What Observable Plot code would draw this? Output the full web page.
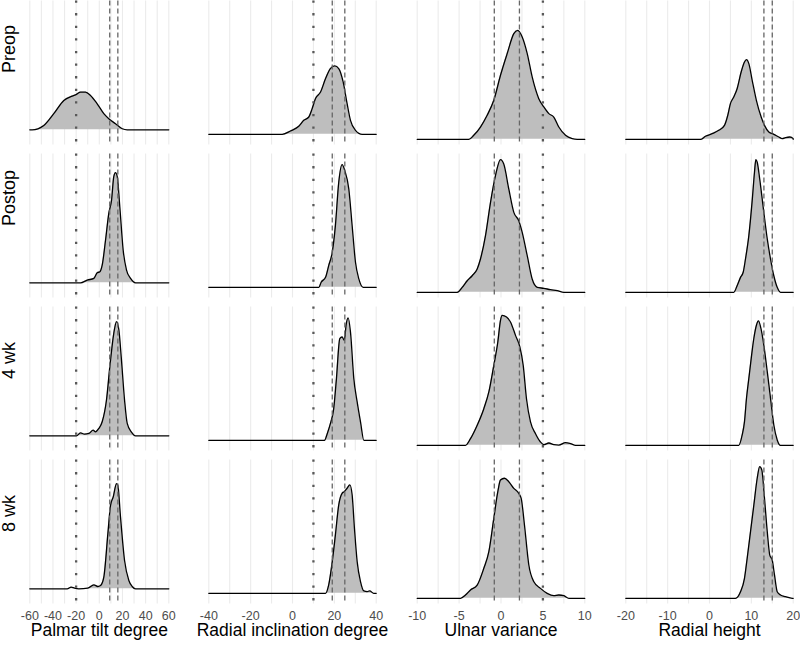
<!DOCTYPE html>
<html>
<head>
<meta charset="utf-8">
<script src="https://cdn.jsdelivr.net/npm/d3@7"></script>
<script src="https://cdn.jsdelivr.net/npm/@observablehq/plot@0.6"></script>
<style>
  html, body { margin: 0; padding: 0; background: #ffffff; }
  #chart { position: relative; width: 800px; height: 645px; background: #ffffff; overflow: hidden; }
  #chart > svg { position: absolute; top: 0; }
</style>
</head>
<body>
<div id="chart"></div>
<script>
// ---------- data (relative density) ----------
const rows = ["Preop", "Postop", "4 wk", "8 wk"];

const palmarPreop  = [[-58,0],[-47.9,0.034],[-39.3,0.125],[-30.6,0.228],[-23.4,0.262],[-19.7,0.275],[-16.2,0.293],[-11.9,0.293],[-7.6,0.267],[-1.8,0.202],[3.9,0.125],[8.2,0.086],[14,0.047],[19.8,0.008],[24.1,0]];
const palmarPostop = [[-16.2,0],[-10.4,0.021],[-4.7,0.034],[-1.8,0.078],[0.5,0.086],[2.5,0.137],[5.4,0.332],[8.2,0.539],[10.6,0.643],[12.5,0.825],[14,0.856],[15.5,0.825],[17.7,0.591],[20.6,0.254],[23.5,0.099],[27,0.034],[31.3,0]];
const palmar4wk    = [[-19.7,0],[-16.2,0.023],[-12.8,0.013],[-9,0.018],[-5.3,0.044],[-3.3,0.031],[-0.4,0.057],[2.5,0.109],[6.2,0.278],[9.1,0.537],[12.5,0.796],[14.9,0.887],[16.9,0.822],[18.9,0.615],[21.8,0.278],[24.1,0.096],[27.6,0.031],[31.3,0]];
const palmar8wk    = [[-27.7,0],[-24.3,0.013],[-21.4,0.005],[-17.7,0],[-9.9,0.005],[-4.7,0.031],[-1.3,0.018],[1.1,0.026],[3.9,0.091],[7.4,0.428],[9.7,0.648],[12,0.713],[14.9,0.817],[16,0.804],[18.3,0.558],[21.8,0.22],[25.5,0.065],[28.4,0.018],[31.3,0]];

const radialPreop  = [[-4.9,0],[-1,0.025],[3,0.06],[5.4,0.105],[7.8,0.13],[9.4,0.193],[11,0.268],[13.4,0.317],[15.8,0.418],[18.1,0.493],[20.2,0.513],[22.1,0.493],[24.2,0.393],[26.1,0.23],[27.7,0.105],[30.1,0.03],[33.3,0]];
const radialPostop = [[12.6,0],[13.7,0.038],[15.8,0.075],[17.3,0.163],[19,0.263],[20.5,0.463],[22.1,0.788],[23.7,0.92],[25,0.875],[26.9,0.738],[28.5,0.463],[30.1,0.188],[31.7,0.063],[33.8,0]];
const radial4wk    = [[15.3,0],[16.6,0.05],[18.1,0.125],[19.7,0.238],[21,0.463],[22.6,0.763],[23.7,0.775],[24.8,0.75],[25.6,0.863],[26.6,0.918],[27.7,0.813],[29.3,0.463],[30.9,0.288],[32.5,0.138],[34.1,0]];
const radial8wk    = [[15.8,0],[17.3,0.063],[19,0.238],[20.5,0.438],[22.1,0.663],[23.7,0.75],[24.8,0.763],[26.1,0.788],[27.4,0.813],[28.5,0.738],[29.6,0.488],[30.9,0.238],[32.5,0.088],[34.1,0.018],[35.7,0.013],[36.9,0.018],[38.8,0]];

const ulnarPreop  = [[-3.84,0],[-3.25,0.029],[-2.45,0.089],[-1.65,0.174],[-0.86,0.282],[-0.06,0.463],[0.74,0.62],[1.53,0.764],[2,0.788],[2.53,0.74],[3.13,0.62],[3.72,0.451],[4.51,0.294],[5.11,0.234],[5.71,0.186],[6.3,0.161],[6.9,0.089],[7.7,0.029],[8.5,0.005],[9.1,0]];
const ulnarPostop = [[-5.23,0],[-4.63,0.036],[-4.03,0.084],[-3.44,0.12],[-2.84,0.169],[-2.45,0.241],[-1.85,0.41],[-1.25,0.651],[-0.66,0.843],[-0.06,0.959],[0.33,0.928],[0.93,0.747],[1.53,0.578],[2.12,0.518],[2.53,0.434],[3.13,0.265],[3.72,0.096],[4.32,0.036],[5.11,0.029],[5.91,0.019],[6.71,0.012],[7.5,0]];
const ulnar4wk    = [[-4.24,0],[-3.64,0.048],[-2.84,0.145],[-2.05,0.265],[-1.45,0.386],[-0.86,0.578],[-0.38,0.747],[-0.06,0.904],[0.14,0.94],[0.66,0.928],[1.13,0.892],[1.73,0.795],[2.25,0.711],[2.65,0.578],[3.04,0.337],[3.52,0.169],[4.12,0.084],[4.71,0.024],[5.11,0.005],[5.71,0.017],[6.3,0.005],[6.9,0.002],[7.7,0.019],[8.3,0.012],[8.9,0]];
const ulnar8wk    = [[-4.83,0],[-4.24,0.024],[-3.64,0.06],[-2.84,0.096],[-2.05,0.217],[-1.45,0.337],[-0.86,0.578],[-0.38,0.771],[-0.06,0.855],[0.42,0.868],[0.93,0.843],[1.53,0.795],[2.12,0.759],[2.41,0.723],[2.8,0.53],[3.32,0.241],[3.92,0.12],[4.71,0.072],[5.51,0.036],[6.3,0.019],[6.9,0.024],[7.5,0.019],[8.1,0]];

const heightPreop  = [[-2.15,0],[-0.96,0.022],[0.64,0.041],[2.22,0.065],[3.58,0.101],[4.37,0.174],[5,0.258],[5.8,0.306],[6.6,0.366],[7.57,0.487],[8.36,0.559],[8.84,0.576],[9.4,0.547],[10.2,0.427],[11.2,0.282],[12.35,0.161],[13.14,0.101],[14.17,0.053],[15.37,0.036],[16.56,0.017],[17.37,0.005],[18.16,0.012],[19.2,0.017],[20,0.005]];
const heightPostop = [[5.8,0],[6.6,0.048],[7.41,0.108],[8.05,0.145],[8.6,0.241],[9.4,0.41],[10.2,0.663],[10.75,0.868],[11.07,0.959],[11.4,0.94],[12,0.819],[12.98,0.578],[13.8,0.386],[14.58,0.241],[15.37,0.12],[16.18,0.036],[16.97,0]];
const height4wk    = [[7,0],[7.81,0.075],[8.36,0.171],[8.84,0.34],[9.4,0.484],[9.97,0.629],[10.6,0.774],[11.23,0.87],[11.7,0.899],[12.19,0.858],[12.98,0.725],[13.8,0.533],[14.58,0.34],[15.37,0.147],[16.18,0.039],[16.97,0]];
const height8wk    = [[6.21,0],[7.41,0.048],[8.36,0.145],[9,0.289],[9.8,0.482],[10.6,0.675],[11.4,0.868],[12,0.952],[12.5,0.928],[13.14,0.723],[13.8,0.482],[14.4,0.313],[14.98,0.277],[15.53,0.169],[16.18,0.048],[16.97,0.024],[18.16,0.012],[19.76,0]];

// axis tick labels, grid lines and reference lines
const titles = ["Palmar tilt degree", "Radial inclination degree", "Ulnar variance", "Radial height"];
const palmarTicks = [-60,-40,-20,0,20,40,60];
const radialTicks = [-40,-20,0,20,40];
const ulnarTicks  = [-10,-5,0,5,10];
const heightTicks = [-20,-10,0,10,20];
const palmarGrid = [-60,-50,-40,-30,-20,-10,0,10,20,30,40,50,60];
const radialGrid = [-40,-30,-20,-10,0,10,20,30,40];
const ulnarGrid  = [-10,-7.5,-5,-2.5,0,2.5,5,7.5,10];
const heightGrid = [-20,-15,-10,-5,0,5,10,15,20];
const palmarDotted = [-20], palmarDashed = [9, 16];
const radialDotted = [10],  radialDashed = [19, 25];
const ulnarDotted  = [5],   ulnarDashed  = [-0.8, 2.2];
const heightDotted = [],    heightDashed = [13, 15];

// ---------- layout ----------
const FONT = "'Liberation Sans', Arial, Helvetica, sans-serif";
const columns = [
  {title: titles[0], ticks: palmarTicks, grid: palmarGrid, dotted: palmarDotted, dashed: palmarDashed,
   series: [palmarPreop, palmarPostop, palmar4wk, palmar8wk], ymin: -0.118, left: 0, ml: 29.3, mr: 31.7, labels: true},
  {title: titles[1], ticks: radialTicks, grid: radialGrid, dotted: radialDotted, dashed: radialDashed,
   series: [radialPreop, radialPostop, radial4wk, radial8wk], ymin: -0.080, left: 200, ml: 8.3, mr: 24.3},
  {title: titles[2], ticks: ulnarTicks, grid: ulnarGrid, dotted: ulnarDotted, dashed: ulnarDashed,
   series: [ulnarPreop, ulnarPostop, ulnar4wk, ulnar8wk], ymin: -0.041, left: 400, ml: 16.7, mr: 15.7},
  {title: titles[3], ticks: heightTicks, grid: heightGrid, dotted: heightDotted, dashed: heightDashed,
   series: [heightPreop, heightPostop, height4wk, height8wk], ymin: -0.041, left: 600, ml: 25.3, mr: 7.3}
];

const chart = document.getElementById("chart");
for (const col of columns) {
  const xmin = d3.min(col.ticks), xmax = d3.max(col.ticks);
  const data = rows.flatMap((r, i) =>
    [[xmin, 0], ...col.series[i], [xmax, 0]].map(([x, d]) => ({row: r, x, d}))
  );
  const marks = [
    Plot.gridX(col.grid, {stroke: "#ebebeb", strokeOpacity: 1, strokeWidth: 1.1}),
    Plot.areaY(data, {x: "x", y: "d", fy: "row", fill: "#bebebe", curve: "monotone-x"}),
    Plot.lineY(data, {x: "x", y: "d", fy: "row", stroke: "#000", strokeWidth: 1.3, curve: "monotone-x"}),
    Plot.ruleX(col.dotted, {stroke: "#595959", strokeWidth: 2.3, strokeDasharray: "2.3,10.3"}),
    Plot.ruleX(col.dashed, {stroke: "#666666", strokeWidth: 1.3, strokeDasharray: "5,3"}),
    Plot.axisX(col.ticks, {tickSize: 0, tickPadding: 7.4, fontSize: 12.5, color: "#4d4d4d", label: null, tickFormat: (d) => String(d)}),
    Plot.text([col.title], {fy: () => rows[rows.length - 1], frameAnchor: "bottom", dy: 31.9, fontSize: 17.5, fill: "#000"})
  ];
  if (col.labels) {
    marks.push(Plot.text(rows, {fy: (d) => d, text: (d) => d, frameAnchor: "left", rotate: -90, dx: -20.1, fontSize: 18, fill: "#000"}));
  }
  const svg = Plot.plot({
    width: 200,
    height: 645,
    marginLeft: col.ml,
    marginRight: col.mr,
    marginTop: 0.5,
    marginBottom: 41.5,
    style: {fontFamily: FONT, overflow: "visible", background: "transparent"},
    x: {domain: [xmin, xmax]},
    y: {domain: [col.ymin, 1], axis: null},
    fy: {domain: rows, axis: null, paddingInner: 0.0588, paddingOuter: 0, round: false},
    marks
  });
  svg.style.left = col.left + "px";
  chart.appendChild(svg);
}
</script>
</body>
</html>
